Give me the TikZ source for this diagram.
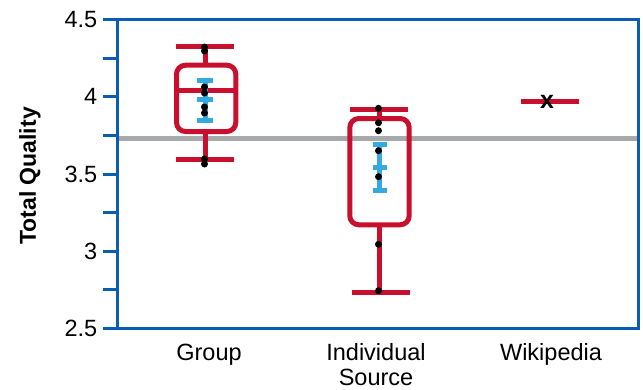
\documentclass[tikz,border=0pt]{standalone}
\usepackage{fontspec}
\setmainfont{Liberation Sans}
\definecolor{boxred}{HTML}{C8102E}
\definecolor{axisblue}{HTML}{0A5DB3}
\definecolor{errblue}{HTML}{36A9E1}
\definecolor{refgray}{HTML}{A8A9AD}
\begin{document}
\begin{tikzpicture}[x=1pt,y=-1pt,
  axisline/.style={draw=axisblue, line width=3pt},
  whisk/.style={draw=boxred, line width=5pt},
  bx/.style={draw=boxred, line width=5pt, rounded corners=9pt},
  errbar/.style={draw=errblue, line width=5pt},
  refline/.style={draw=refgray, line width=5pt},
  dot/.style={fill=black, circle, inner sep=0pt, minimum size=7pt},
  ticklab/.style={anchor=east, inner sep=0pt, font=\fontsize{23.5}{27}\selectfont},
  catlab/.style={anchor=base, inner sep=0pt, font=\fontsize{23.5}{27}\selectfont},
  ylab/.style={rotate=90, inner sep=0pt, font=\fontsize{23}{27}\selectfont\bfseries}]
\useasboundingbox (0,0) rectangle (643,389);
% reference line
\draw[refline] (118.5,138.3) -- (636.5,138.3);
% axes frame and ticks
\draw[axisline] (117,19.5) rectangle (638,328.5);
\foreach \k in {0,...,8} {
  \draw[axisline] (103,{328.5-\k*38.625}) -- (117,{328.5-\k*38.625});
}
\foreach \k/\lab in {0/2.5,2/3,4/3.5,6/4,8/4.5} {
  \node[ticklab] (t\k) at (97.5,{328.5-\k*38.625}) {\lab};
}
\node[ylab] (ylabel) at (30,176) {Total Quality};
% Group
\draw[whisk] (205,46.7) -- (205,65.2);
\draw[whisk] (205,131.5) -- (205,159.3);
\draw[whisk] (176,46.7) -- (233.5,46.7);
\draw[whisk] (176,159.3) -- (233.5,159.3);
\draw[bx] (176.5,65.2) rectangle (235.8,131.5);
\draw[whisk] (176.5,90) -- (235.8,90);
\draw[errbar] (205,80) -- (205,120);
\draw[errbar] (197,80) -- (213,80);
\draw[errbar] (197,99.3) -- (213,99.3);
\draw[errbar] (197,120) -- (213,120);
\foreach \yy [count=\i] in {47,51,87,93,107,113,159,164} {
  \node[dot] (g\i) at (204.5,\yy) {};
}
% Individual Source
\draw[whisk] (379,109.3) -- (379,118.5);
\draw[whisk] (379,224.8) -- (379,292.3);
\draw[whisk] (350,109.3) -- (408,109.3);
\draw[whisk] (352,292.3) -- (409.5,292.3);
\draw[bx] (349.8,118.5) rectangle (409.2,224.8);
\draw[errbar] (379.5,144) -- (379.5,190);
\draw[errbar] (372.5,144) -- (386.5,144);
\draw[errbar] (372.5,167.3) -- (386.5,167.3);
\draw[errbar] (372.5,190) -- (386.5,190);
\foreach \yy [count=\i] in {108.3,122.7,130.7,150.7,176.7,244.3,290.7} {
  \node[dot] (s\i) at (378.5,\yy) {};
}
% Wikipedia
\draw[whisk] (521,101.7) -- (579,101.7);
\node[inner sep=0pt, font=\fontsize{25}{28}\selectfont\bfseries] (wx) at (547,102) {x};
% category labels
\node[catlab] (lgroup) at (209,360.5) {Group};
\node[catlab] (lind1) at (376,360.5) {Individual};
\node[catlab] (lind2) at (376,385.5) {Source};
\node[catlab] (lwiki) at (551,360.5) {Wikipedia};
\end{tikzpicture}
\end{document}
